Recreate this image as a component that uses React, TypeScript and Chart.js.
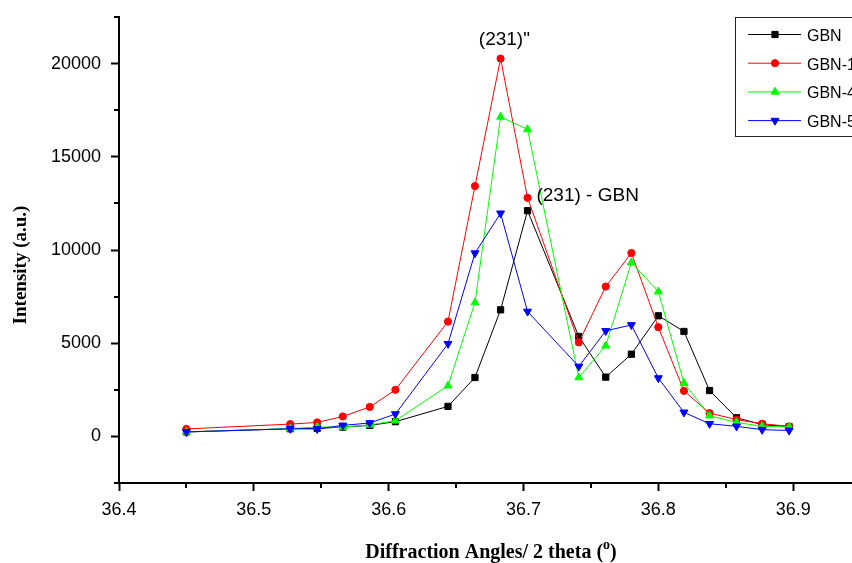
import React, { useEffect, useRef } from 'react';
import { Chart, registerables } from 'chart.js';
import { drawPoint } from 'chart.js/helpers';

Chart.register(...registerables);

// 2-theta positions (degrees)
const angles = [36.450, 36.527, 36.547, 36.566, 36.586, 36.605, 36.644, 36.664, 36.683, 36.703, 36.741, 36.761, 36.780, 36.800, 36.819, 36.838, 36.858, 36.877, 36.897];

// Intensities (a.u.)
const gbn = [240, 410, 430, 500, 590, 790, 1610, 3160, 6790, 12110, 5360, 3180, 4410, 6470, 5630, 2460, 1000, 630, 520];
const gbn1 = [400, 660, 750, 1070, 1580, 2500, 6160, 13430, 20270, 12800, 5040, 8040, 9840, 5860, 2440, 1250, 900, 680, 540];
const gbn4 = [240, 420, 500, 500, 620, 840, 2720, 7180, 17140, 16470, 3160, 4860, 9320, 7770, 2860, 1110, 750, 540, 500];
const gbn5 = [240, 410, 400, 590, 720, 1200, 4970, 9830, 11970, 6700, 3750, 5660, 5980, 3130, 1290, 680, 540, 360, 320];

const seriesNames = ['GBN', 'GBN-1', 'GBN-4', 'GBN-5'];
const seriesValues = [gbn, gbn1, gbn4, gbn5];
const seriesColors = ['#000000', '#ff0000', '#00ff00', '#0000ff'];
const seriesStyles = ['rect', 'circle', 'triangle', 'triangle'];
const seriesRotations = [0, 0, 0, 180];
const seriesRadii = [4.4, 3.6, 4.6, 4.6];

// Axis settings
const xMin = 36.4;
const xMax = 37.0;
const xStep = 0.05;
const yMin = -2500;
const yMax = 22500;
const yStep = 2500;
const yLabelEvery = 5000;

const xTitle = 'Diffraction Angles/ 2 theta (';
const xTitleSup = 'o';
const xTitleEnd = ')';
const yTitle = 'Intensity (a.u.)';

// Annotations: [text, x (deg), y (a.u.), align]
const annotations: [string, number, number, CanvasTextAlign][] = [
  ['(231)"', 36.6858, 20980, 'center'],
  ['(231) - GBN', 36.7096, 12630, 'left'],
];

const SANS = '"Liberation Sans", Arial, sans-serif';
const SERIF = '"Liberation Serif", "Times New Roman", serif';

const isMajorX = (v: number) => Math.abs(v * 10 - Math.round(v * 10)) < 1e-6;

const overlayPlugin = {
  id: 'overlay',
  afterDraw(chart: any) {
    const ctx: CanvasRenderingContext2D = chart.ctx;
    const xs = chart.scales.x;
    const ys = chart.scales.y;
    const area = chart.chartArea;
    ctx.save();

    // minor ticks
    ctx.strokeStyle = '#000';
    ctx.lineWidth = 2;
    ctx.beginPath();
    xs.ticks.forEach((t: any) => {
      if (!isMajorX(t.value)) {
        const px = Math.round(xs.getPixelForValue(t.value));
        ctx.moveTo(px, area.bottom);
        ctx.lineTo(px, area.bottom + 5);
      }
    });
    ys.ticks.forEach((t: any) => {
      if (t.value % yLabelEvery !== 0) {
        const py = Math.round(ys.getPixelForValue(t.value));
        ctx.moveTo(area.left - 5, py);
        ctx.lineTo(area.left, py);
      }
    });
    ctx.stroke();

    // annotations
    ctx.fillStyle = '#000';
    ctx.font = `19px ${SANS}`;
    ctx.textBaseline = 'alphabetic';
    annotations.forEach(([txt, ax, ay, align]) => {
      ctx.textAlign = align;
      ctx.fillText(txt, xs.getPixelForValue(ax), ys.getPixelForValue(ay));
    });

    // y title
    ctx.save();
    ctx.translate(26, 265);
    ctx.rotate(-Math.PI / 2);
    ctx.font = `bold 19px ${SERIF}`;
    ctx.textAlign = 'center';
    ctx.textBaseline = 'alphabetic';
    ctx.fillText(yTitle, 0, 0);
    ctx.restore();

    // x title
    ctx.font = `bold 20px ${SERIF}`;
    const w1 = ctx.measureText(xTitle).width;
    ctx.font = `bold 14px ${SERIF}`;
    const w2 = ctx.measureText(xTitleSup).width;
    ctx.font = `bold 20px ${SERIF}`;
    const w3 = ctx.measureText(xTitleEnd).width;
    const total = w1 + w2 + w3;
    let tx = 491 - total / 2;
    const base = 558;
    ctx.textAlign = 'left';
    ctx.fillText(xTitle, tx, base);
    tx += w1;
    ctx.font = `bold 14px ${SERIF}`;
    ctx.fillText(xTitleSup, tx, base - 9);
    tx += w2;
    ctx.font = `bold 20px ${SERIF}`;
    ctx.fillText(xTitleEnd, tx, base);

    // legend
    const lx = 735.5, ly = 17.5, lw = 160, lh = 119;
    ctx.fillStyle = '#fff';
    ctx.fillRect(lx, ly, lw, lh);
    ctx.strokeStyle = '#222';
    ctx.lineWidth = 1;
    ctx.strokeRect(lx, ly, lw, lh);
    ctx.font = `16px ${SANS}`;
    ctx.textBaseline = 'middle';
    ctx.textAlign = 'left';
    seriesNames.forEach((name, i) => {
      const y = 34.5 + i * 28.7;
      ctx.strokeStyle = seriesColors[i];
      ctx.lineWidth = 1;
      ctx.beginPath();
      ctx.moveTo(748, y);
      ctx.lineTo(801, y);
      ctx.stroke();
      ctx.fillStyle = seriesColors[i];
      drawPoint(ctx, { pointStyle: seriesStyles[i] as any, rotation: seriesRotations[i], radius: seriesRadii[i], borderWidth: 1 }, 775, y);
      ctx.fillStyle = '#000';
      ctx.fillText(name, 807, y + 2);
    });

    ctx.restore();
  },
};

export default function App() {
  const ref = useRef<HTMLCanvasElement>(null);
  useEffect(() => {
    if (!ref.current) return;
    const chart = new Chart(ref.current, {
      type: 'line',
      data: {
        datasets: seriesNames.map((name, i) => ({
          label: name,
          data: angles.map((a, j) => ({ x: a, y: seriesValues[i][j] })),
          borderColor: seriesColors[i],
          backgroundColor: seriesColors[i],
          borderWidth: 1,
          pointStyle: seriesStyles[i] as any,
          pointRotation: seriesRotations[i],
          pointRadius: seriesRadii[i],
          pointBorderWidth: 1,
          tension: 0,
          order: 4 - i,
        })),
      },
      options: {
        responsive: false,
        animation: false,
        layout: { padding: { top: 17, right: 32, left: 0, bottom: 0 } },
        plugins: { legend: { display: false }, tooltip: { enabled: false } },
        scales: {
          x: {
            type: 'linear',
            min: xMin,
            max: xMax,
            afterFit: (s: any) => { s.height = 80; s.paddingLeft = 0; s.paddingRight = 0; },
            ticks: {
              stepSize: xStep,
              autoSkip: false,
              maxRotation: 0,
              padding: 8,
              color: '#000',
              font: { family: SANS, size: 18 },
              callback: (v: any) => (isMajorX(Number(v)) ? Number(v).toFixed(1) : ''),
            },
            grid: {
              drawOnChartArea: false,
              drawTicks: true,
              tickLength: 8,
              tickWidth: 2,
              tickColor: (c: any) => (isMajorX(c.tick.value) ? '#000' : 'rgba(0,0,0,0)'),
            },
            border: { display: true, color: '#000', width: 2 },
          },
          y: {
            type: 'linear',
            min: yMin,
            max: yMax,
            afterFit: (s: any) => { s.width = 119; s.paddingTop = 0; s.paddingBottom = 0; },
            ticks: {
              stepSize: yStep,
              autoSkip: false,
              padding: 10,
              color: '#000',
              font: { family: SANS, size: 18 },
              callback: (v: any) => (Number(v) % yLabelEvery === 0 ? String(v) : ''),
            },
            grid: {
              drawOnChartArea: false,
              drawTicks: true,
              tickLength: 8,
              tickWidth: 2,
              tickColor: (c: any) => (c.tick.value % yLabelEvery === 0 ? '#000' : 'rgba(0,0,0,0)'),
            },
            border: { display: true, color: '#000', width: 2 },
          },
        },
      },
      plugins: [overlayPlugin],
    });
    return () => chart.destroy();
  }, []);
  return (
    <div style={{ position: 'fixed', left: 0, top: 0, width: 852, height: 563, overflow: 'hidden', background: '#fff' }}>
      <canvas ref={ref} width={960} height={563} style={{ display: 'block', width: 960, height: 563 }} />
    </div>
  );
}
